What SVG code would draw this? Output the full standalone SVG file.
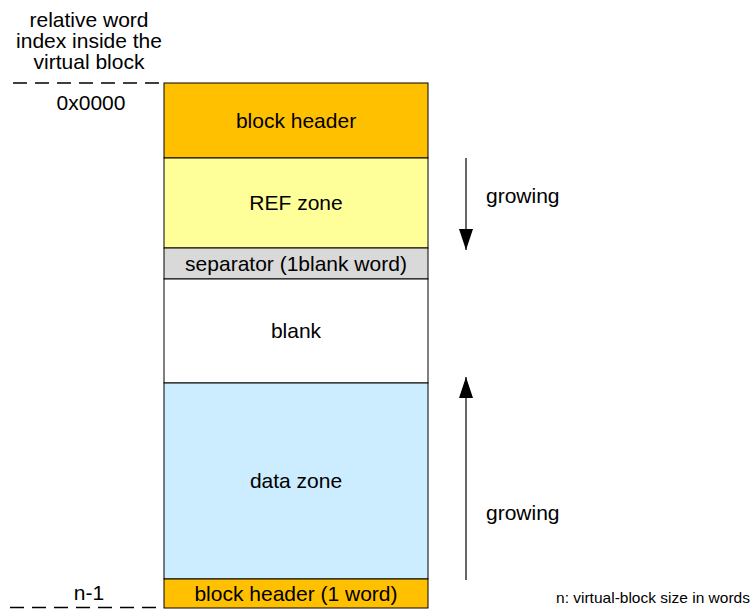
<svg xmlns="http://www.w3.org/2000/svg" width="755" height="611" viewBox="0 0 755 611">
<style>
text{font-family:"Liberation Sans",Arial,sans-serif;fill:#000}
.t{font-size:21px;text-anchor:middle}
.z{stroke:#000;stroke-width:1}
.d{stroke:#000;stroke-width:1.3;stroke-dasharray:14 8;fill:none}
.a{stroke:#000;stroke-width:1.2;fill:none}
</style>
<defs>
<marker id="ah" viewBox="0 0 21 14" refX="21" refY="7" markerWidth="21" markerHeight="14" markerUnits="userSpaceOnUse" orient="auto">
<path d="M0,0 L21,7 L0,14 Z" fill="#000"/>
</marker>
</defs>
<g id="labels">
<text class="t" x="89" y="27">relative word</text>
<text class="t" x="89" y="48">index inside the</text>
<text class="t" x="89" y="69">virtual block</text>
<text class="t" x="91" y="110">0x0000</text>
<text class="t" x="89" y="600">n-1</text>
<text x="750" y="603" font-size="15" text-anchor="end" textLength="194" lengthAdjust="spacingAndGlyphs">n: virtual-block size in words</text>
</g>
<g id="header">
<rect class="z" x="164" y="83" width="264" height="75" fill="#FFC000"/>
<text class="t" x="296" y="128">block header</text>
</g>
<g id="refzone">
<rect class="z" x="164" y="158" width="264" height="90" fill="#FFFF99"/>
<text class="t" x="296" y="210">REF zone</text>
</g>
<g id="separator">
<rect class="z" x="164" y="248" width="264" height="31" fill="#D9D9D9"/>
<text class="t" x="296" y="271">separator (1blank word)</text>
</g>
<g id="blank">
<rect class="z" x="164" y="279" width="264" height="104" fill="#FFFFFF"/>
<text class="t" x="296" y="338">blank</text>
</g>
<g id="datazone">
<rect class="z" x="164" y="383" width="264" height="196" fill="#CCECFF"/>
<text class="t" x="296" y="488">data zone</text>
</g>
<g id="footer">
<rect class="z" x="164" y="579" width="264" height="29" fill="#FFC000"/>
<text class="t" x="296" y="601">block header (1 word)</text>
</g>
<g id="connectors">
<line class="d" x1="13" y1="83" x2="164" y2="83"/>
<line class="d" x1="10" y1="607.5" x2="164" y2="607.5"/>
<line class="a" x1="466" y1="158" x2="466" y2="250" marker-end="url(#ah)"/>
<line class="a" x1="466" y1="580" x2="466" y2="377" marker-end="url(#ah)"/>
</g>
<g id="growlabels">
<text x="486" y="203" font-size="21">growing</text>
<text x="486" y="520" font-size="21">growing</text>
</g>
</svg>
